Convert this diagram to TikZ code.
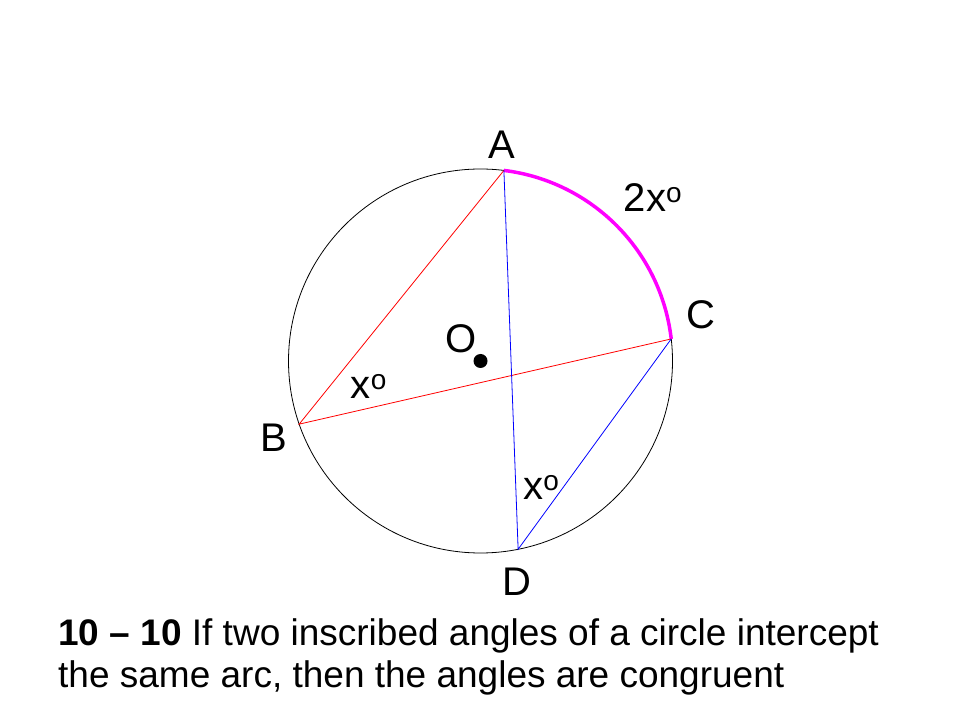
\documentclass[tikz,border=0pt]{standalone}
\usepackage{fontspec}
\setmainfont{Liberation Sans}
\usepackage{tikz}
\definecolor{arcmagenta}{RGB}{255,0,255}
\newcommand\xo{x\textsuperscript{o}}

\begin{document}
\begin{tikzpicture}[x=1pt,y=1pt,
    lbl/.style={inner sep=0pt,font=\fontsize{40}{48}\selectfont},
    txt/.style={inner sep=0pt,anchor=base west,font=\fontsize{37}{44}\selectfont}]
  \def\couleur{arcmagenta}
  \def\rayon{192}
  \useasboundingbox (0,0) rectangle (960,720);
  \path[coordinate] (480.5,359) coordinate(O)
    (O) ++(83:\rayon) coordinate(A)
    (O) ++(6.6:\rayon) coordinate(C)
    (O) ++(199.2:\rayon) coordinate(B)
    (O) ++(281.3:\rayon) coordinate(D);
  \draw[line width=0.8pt] (O) circle[radius=\rayon];
  \draw[\couleur,line width=3.5pt] (C) arc[start angle=6.6,end angle=83,radius=\rayon];
  \draw[red,line width=0.8pt] (A) -- (B) -- (C);
  \draw[blue,line width=0.8pt] (A) -- (D) -- (C);
  \fill (O) circle[radius=7];
  % labels
  \node[lbl] (labA) at (502,575) {A};
  \node[lbl] (labC) at (701,405) {C};
  \node[lbl] (labB) at (273.5,282.5) {B};
  \node[lbl] (labD) at (517,138.5) {D};
  \node[lbl] (labO) at (461.5,381) {O};
  \node[lbl] (arcAC) at (653,522) {2\xo};
  \node[lbl] (angB) at (369,334) {\xo};
  \node[lbl] (angD) at (541.5,233) {\xo};
  % theorem
  \node[txt] (line1) at (58,75) {\textbf{10 – 10} If two inscribed angles of a circle intercept};
  \node[txt] (line2) at (58,33) {the same arc, then the angles are congruent};
\end{tikzpicture}
\end{document}
